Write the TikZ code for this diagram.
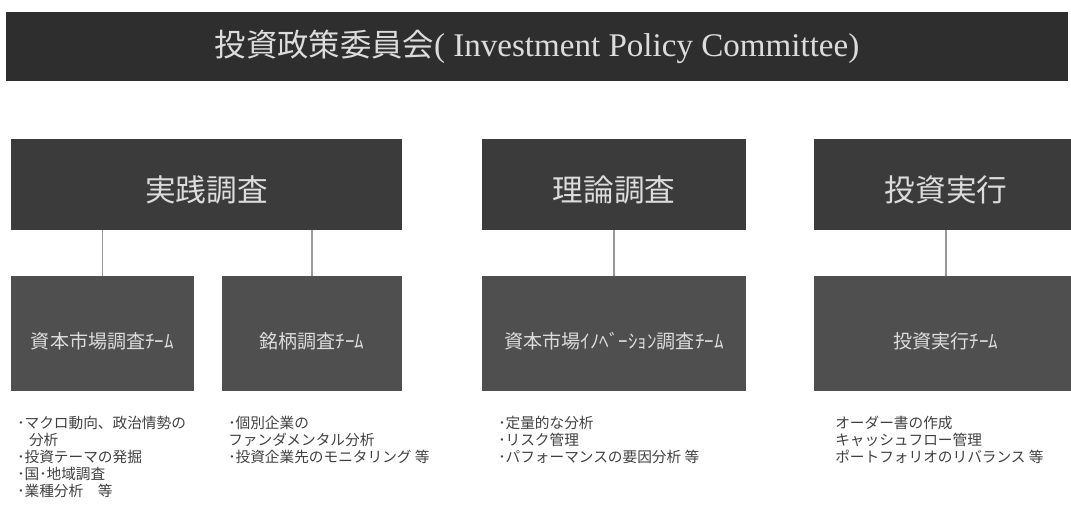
\documentclass[tikz,border=0pt]{standalone}
\usepackage{fontspec}
\setmainfont{Liberation Serif}
\newfontfamily\jp{Noto Sans CJK JP}
\usetikzlibrary{positioning}

\definecolor{barcol}{HTML}{2E2E2E}
\definecolor{headcol}{HTML}{3B3B3B}
\definecolor{teamcol}{HTML}{4F4F4F}
\definecolor{boxtext}{HTML}{DCDCDC}
\definecolor{listtext}{HTML}{404040}
\definecolor{linkcol}{HTML}{999999}

\tikzset{
  topbar/.style={fill=barcol, text=boxtext, inner sep=0pt,
    font=\fontsize{24.8}{28}\selectfont},
  headbox/.style={fill=headcol, text=boxtext, inner sep=0pt,
    minimum height=91*0.75pt, text height=28pt, text depth=3pt,
    font=\jp\fontsize{23}{28}\selectfont},
  teambox/.style={fill=teamcol, text=boxtext, inner sep=0pt,
    minimum height=115*0.75pt, text height=25pt, text depth=2pt,
    font=\jp\fontsize{14.3}{17}\selectfont},
  tasklist/.style={anchor=north west, inner sep=0pt, align=left, text=listtext,
    font=\jp\fontsize{11}{12.75}\selectfont},
  link/.style={draw=linkcol, line width=1.2pt}
}

\begin{document}
\begin{tikzpicture}[x=0.75pt, y=-0.75pt]
    \def\px{0.75pt}
    \useasboundingbox (0,0) rectangle (1071,507);
    \clip (0,0) rectangle (1071,507);
    % committee
    \node[topbar, minimum width=1062*\px, minimum height=69*\px] (ipc) at (537,46.5)
        {{\jp\fontsize{23.5}{28}\selectfont 投資政策委員会}( Investment Policy Committee)};
    % research and execution heads
    \node[headbox, minimum width=391*\px] (jissen) at (206.5,184.5) {実践調査};
    \node[headbox, minimum width=264*\px] (riron) at (614,184.5) {理論調査};
    \node[headbox, minimum width=264*\px] (toshi) at (946,184.5) {投資実行};
    % teams
    \node[teambox, minimum width=183*\px] (shihon) at (102.5,333.5) {資本市場調査ﾁｰﾑ};
    \node[teambox, minimum width=180*\px] (meigara) at (312,333.5) {銘柄調査ﾁｰﾑ};
    \node[teambox, minimum width=264*\px] (innov) at (614,333.5) {資本市場ｲﾉﾍﾞｰｼｮﾝ調査ﾁｰﾑ};
    \node[teambox, minimum width=264*\px] (jikko) at (946,333.5) {投資実行ﾁｰﾑ};
    % links
    \draw[link] (shihon.north) -- (shihon.north |- jissen.south);
    \draw[link] (meigara.north) -- (meigara.north |- jissen.south);
    \draw[link] (innov.north) -- (riron.south);
    \draw[link] (jikko.north) -- (toshi.south);
    % tasks
    \node[tasklist] (shihontask) at (17,416)
        {･マクロ動向、政治情勢の\\\hspace{0.8em}分析\\･投資テーマの発掘\\･国･地域調査\\･業種分析　等};
    \node[tasklist] (meigaratask) at (228,416)
        {･個別企業の\\ファンダメンタル分析\\･投資企業先のモニタリング 等};
    \node[tasklist] (innovtask) at (498,416)
        {･定量的な分析\\･リスク管理\\･パフォーマンスの要因分析 等};
    \node[tasklist] (jikkotask) at (835,416)
        {オーダー書の作成\\キャッシュフロー管理\\ポートフォリオのリバランス 等};
\end{tikzpicture}
\end{document}
